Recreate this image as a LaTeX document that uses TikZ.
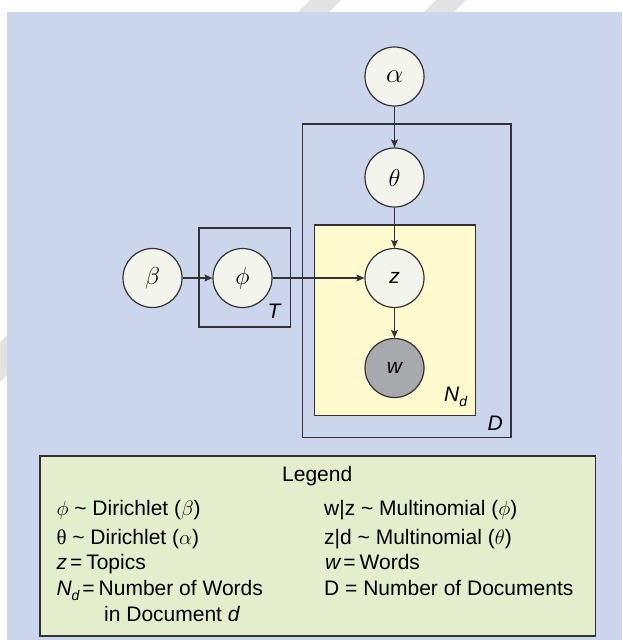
\documentclass[tikz,border=0pt]{standalone}
\usepackage{graphicx}
\usepackage{fontspec}
\setmainfont{Liberation Sans}
\newfontfamily\seriffont{Liberation Serif}
\usetikzlibrary{arrows.meta}
\definecolor{bgblue}{RGB}{203,214,237}
\definecolor{platefill}{RGB}{255,251,207}
\definecolor{legendfill}{RGB}{228,238,205}
\definecolor{varfill}{RGB}{243,244,236}
\definecolor{obsfill}{RGB}{168,169,172}
\definecolor{linecol}{RGB}{50,50,52}
\definecolor{stripe}{RGB}{226,226,226}
\newcommand{\gk}[1]{\scalebox{1.18}{$#1$}}
\tikzset{
  var/.style={circle, draw=linecol, line width=1.2pt, fill=varfill, minimum size=59pt, inner sep=0pt, font=\fontsize{20.74}{24}\selectfont},
  obs/.style={var, fill=obsfill},
  plate/.style={draw=linecol, line width=1.2pt},
  arr/.style={draw=linecol, line width=1.1pt, -{Stealth[length=8pt,width=7pt,inset=1.5pt]}},
  lab/.style={inner sep=0pt, font=\fontsize{21}{24}\selectfont\itshape},
  lt/.style={inner sep=0pt, anchor=base west, font=\fontsize{21}{24}\selectfont},
}
\begin{document}
\begin{tikzpicture}[x=1pt,y=-1pt]
\useasboundingbox (0,0) rectangle (622,640);
% watermark stripes in white margin
\fill[stripe] (342,0) -- (382,0) -- (0,382) -- (0,342) -- cycle;
\fill[white] (0,0) rectangle (622,12);
\fill[stripe] (310,0) -- (341,0) -- (329,12) -- (298,12) -- cycle;
\fill[stripe] (436,0) -- (466,0) -- (454,12) -- (424,12) -- cycle;
% background panel
\fill[bgblue] (7,12) rectangle (622,640);
% plates
\draw[plate] (302.7,124) rectangle (511,437.3);
\draw[plate, fill=platefill] (314.5,225) rectangle (475.5,415.5);
\draw[plate] (199,228) rectangle (290.5,327);
% nodes
\node[var] (alpha) at (394.5,76.5) {\scalebox{1.3}{$\alpha$}};
\node[var] (theta) at (394.5,177.5) {\gk{\theta}};
\node[var] (z) at (394.5,278) {\fontsize{21}{24}\selectfont\itshape z};
\node[obs] (w) at (394.5,368) {\fontsize{21}{24}\selectfont\itshape w};
\node[var] (beta) at (152.5,278) {\gk{\beta}};
\node[var] (phi) at (242.5,278) {\gk{\phi}};
% connectors
\draw[arr] (alpha) -- (theta);
\draw[arr] (theta) -- (z);
\draw[arr] (z) -- (w);
\draw[arr] (beta) -- (phi);
\draw[arr] (phi) -- (z);
% plate labels
\node[lab, anchor=base] (Tlab) at (274,318) {T};
\node[lab, anchor=base west] (Ndlab) at (444,401.5) {N\raisebox{-5pt}{\fontsize{14}{14}\selectfont d}};
\node[lab, anchor=base west] (Dlab) at (487.5,430) {D};
% legend
\draw[draw=linecol, line width=1.6pt, fill=legendfill] (40,456) rectangle (595.5,636);
\node[lt, anchor=base] (leg) at (317.2,481.7) {Legend};
\node[lt] (l1) at (56.3,515) {$\phi$ \textasciitilde{} Dirichlet ($\beta$)};
\node[lt] (l2) at (56.3,544.5) {{\seriffont θ} \textasciitilde{} Dirichlet ($\alpha$)};
\node[lt] (l3) at (56.3,569.5) {{\itshape z}\hspace{3pt}=\hspace{4pt}Topics};
\node[lt] (l4) at (56.3,595.5) {{\itshape N\raisebox{-5pt}{\fontsize{14}{14}\selectfont d}}\hspace{3pt}=\hspace{4pt}Number of Words};
\node[lt] (l5) at (104,621.7) {in Document {\itshape d}};
\node[lt] (r1) at (324,515) {w|z \textasciitilde{} Multinomial ($\phi$)};
\node[lt] (r2) at (324,544.5) {z|d \textasciitilde{} Multinomial ($\theta$)};
\node[lt] (r3) at (325,569.5) {{\itshape w}\hspace{3pt}=\hspace{4pt}Words};
\node[lt] (r4) at (324,595.5) {D = Number of Documents};
\end{tikzpicture}
\end{document}
